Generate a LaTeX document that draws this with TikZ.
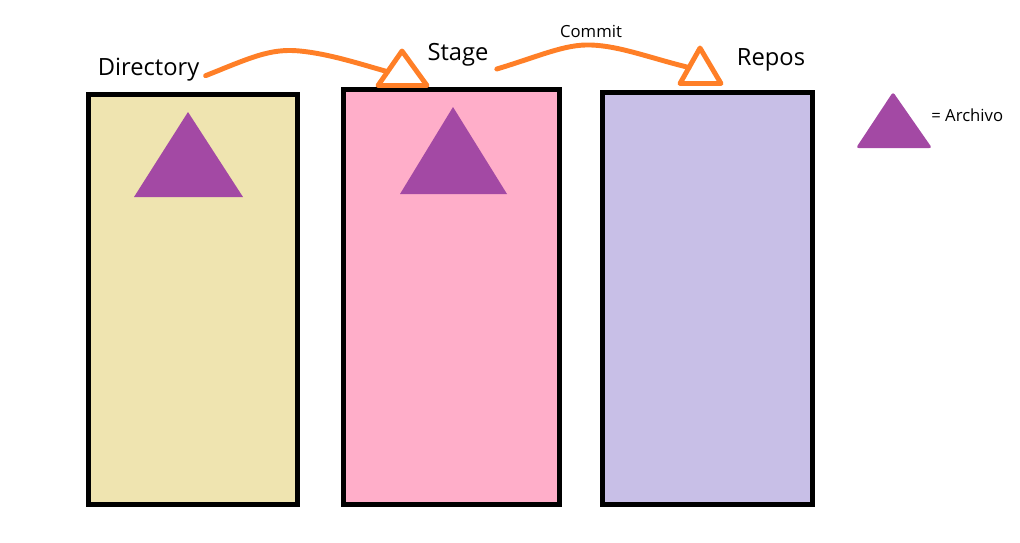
\documentclass[tikz,border=0pt]{standalone}
\usepackage{fontspec}
\setmainfont{Open Sans}
\usepackage{tikz}
\usetikzlibrary{calc}
\definecolor{binyellow}{HTML}{EFE4B0}
\definecolor{binpink}{HTML}{FFAEC9}
\definecolor{binlav}{HTML}{C8BFE7}
\definecolor{filepurple}{HTML}{A349A4}
\definecolor{markorange}{HTML}{FF7F27}

\begin{document}
\begin{tikzpicture}[x=0.02cm,y=-0.02cm,
    bin/.style={draw=black,line width=2.8pt,rectangle,inner sep=0pt},
    marker/.style={draw=markorange,line width=2.8pt,line cap=round,line join=round},
    bigtxt/.style={inner sep=0pt,anchor=base,font=\fontsize{13.5}{16}\selectfont},
    smalltxt/.style={inner sep=0pt,font=\fontsize{9.5}{11}\selectfont}]
        \useasboundingbox (0,0) rectangle (1020,542);
        % the three areas
        \node[bin,fill=binyellow,minimum width=4.18cm,minimum height=8.2cm] (dirbox) at (193,299.5) {};
        \node[bin,fill=binpink,minimum width=4.32cm,minimum height=8.3cm] (stagebox) at (451.5,297) {};
        \node[bin,fill=binlav,minimum width=4.2cm,minimum height=8.24cm] (repobox) at (707.5,298.5) {};
        % files
        \fill[filepurple] (188,112) -- (243,197) -- (134,197) -- cycle;
        \fill[filepurple] (453,107) -- (507,194) -- (400,194) -- cycle;
        \fill[filepurple,rounded corners=1.5pt] (893,92) coordinate (legtop) -- (932,148) -- (856,148) -- cycle;
        \node[smalltxt,anchor=base west] (legtxt) at (931,121.7) {= Archivo};
        % labels
        \node[bigtxt] (dir) at (148.5,75.7) {Directory};
        \node[bigtxt] (stage) at (458,60) {Stage};
        \node[bigtxt] (repo) at (771,65.5) {Repos};
        % moves
        \draw[marker] (378,85.5) coordinate (t1l) -- (402,51) coordinate (t1a) -- (427,85.5) -- cycle;
        \draw[marker] (680,83.5) coordinate (t2l) -- (700,48) coordinate (t2a) -- (721,83.5) -- cycle;
        \draw[marker] ([shift={(6,0)}]dir.base east) .. controls (250,58) and (270,48) .. (300,51)
            .. controls (330,54) and (360,64) .. ($(t1l)!0.4!(t1a)$);
        \draw[marker] ([shift={(8,9)}]stage.base east) .. controls (540,56) and (565,44) .. (591,45)
            node[smalltxt,above=3pt] (commit) {Commit}
            .. controls (620,46) and (650,58) .. ($(t2l)!0.45!(t2a)$);
    \end{tikzpicture}
\end{document}
